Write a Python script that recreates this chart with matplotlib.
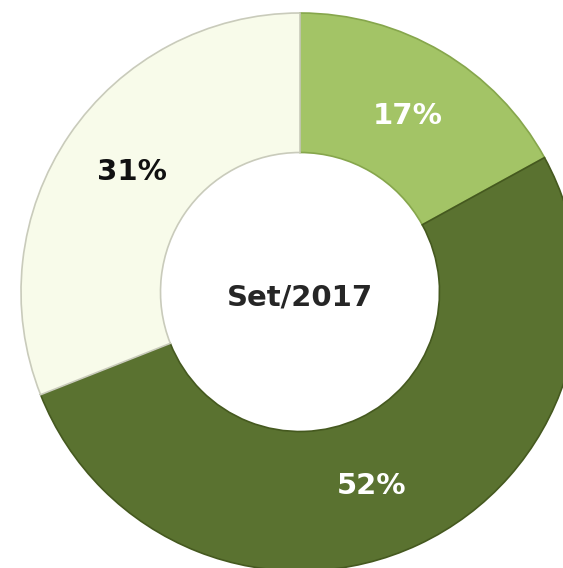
import matplotlib
matplotlib.use('Agg')
import matplotlib.pyplot as plt
import numpy as np

# share per slice, clockwise from 12 o'clock
shares = [17, 52, 31]
labels = ['17%', '52%', '31%']
center_label = 'Set/2017'

colors = ['#a3c466', '#5a7230', '#f8fbea']
edge_colors = ['#86a64c', '#45591f', '#c9cbbb']
text_colors = ['white', 'white', '#111111']
# small angular nudge for label placement (degrees)
label_shift = [-1.0, -5.0, -1.5]

fig = plt.figure(figsize=(5.63, 5.68), dpi=100)
ax = fig.add_axes([0, 0, 1, 1])

wedges, _ = ax.pie(shares, startangle=90, counterclock=False, colors=colors,
                   radius=1.0, wedgeprops=dict(width=0.5, linewidth=1.2))
for w, ec in zip(wedges, edge_colors):
    w.set_edgecolor(ec)

for w, lab, tc, sh in zip(wedges, labels, text_colors, label_shift):
    mid = np.deg2rad((w.theta1 + w.theta2) / 2 + sh)
    r = 0.74
    ax.text(r * np.cos(mid), r * np.sin(mid), lab, ha='center', va='center',
            fontsize=21, fontweight='bold', color=tc)

ax.text(0, -0.02, center_label, ha='center', va='center',
        fontsize=21, fontweight='bold', color='#262626')

ax.set_xlim(-1.0753, 0.9427)
ax.set_ylim(-0.9892, 1.0466)
ax.set_aspect('auto')
ax.axis('off')

plt.savefig('out.png', dpi=100)
plt.close()
